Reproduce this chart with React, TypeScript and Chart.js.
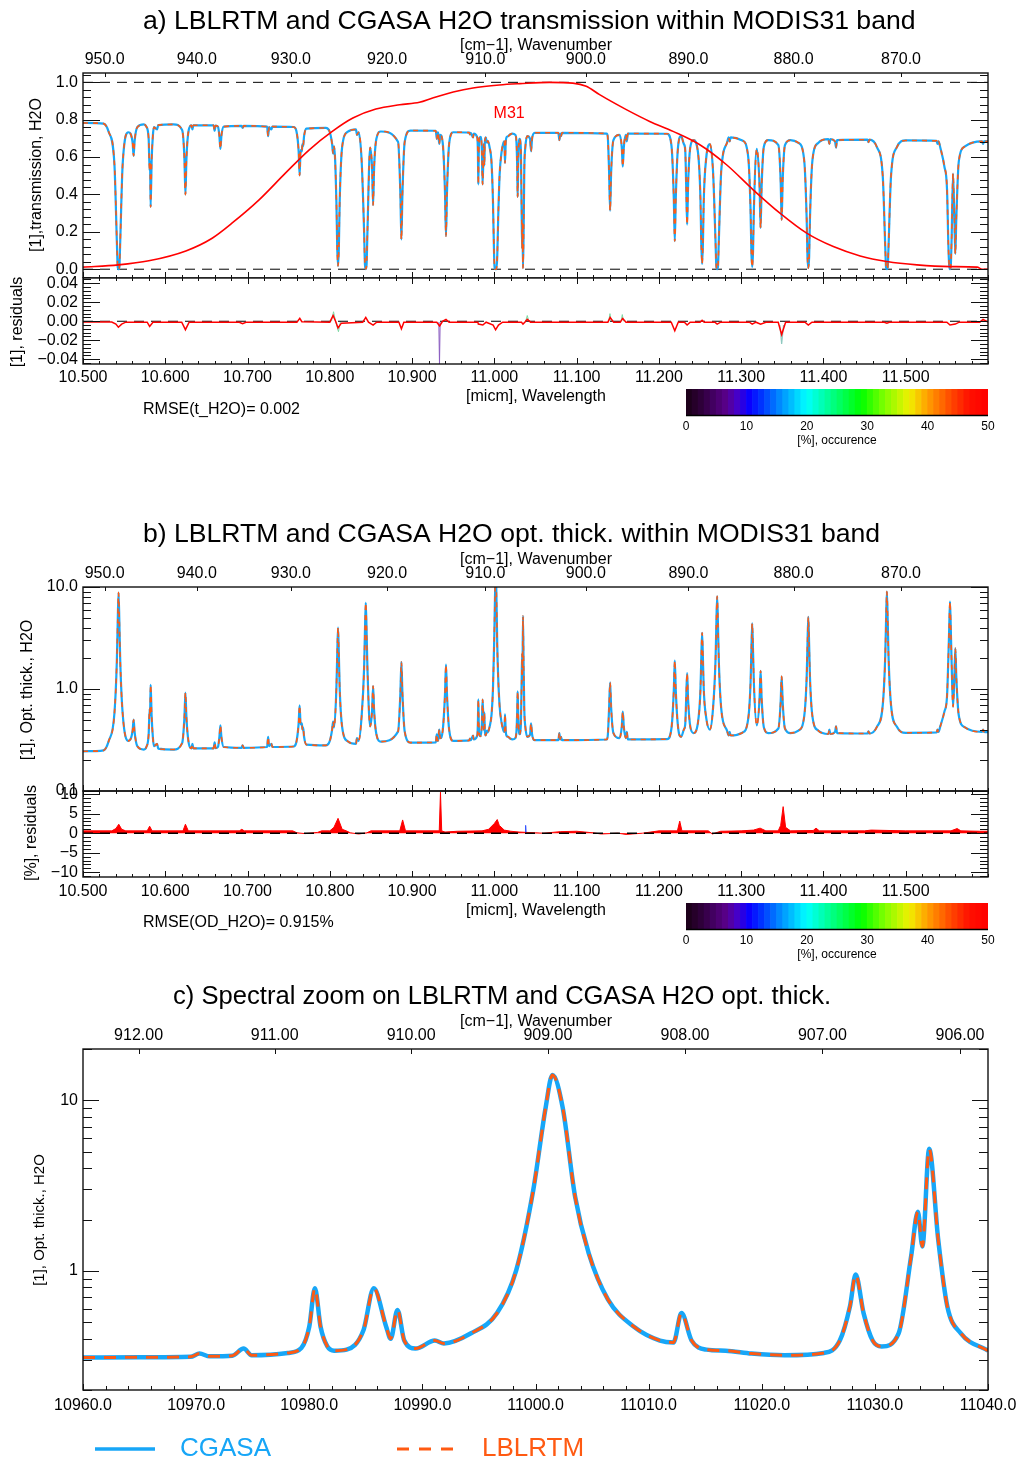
import React, { useEffect, useRef } from "react";
import { Chart, registerables } from "chart.js";

Chart.register(...registerables);

const FONT = '"Liberation Sans", Arial, Helvetica, sans-serif';
const BLUE = "#17a6f7";
const ORANGE = "#ff5a12";
const RED = "#ff0000";
const MINUS = "\u2212";

// ---------------- tick / category values ----------------
const waveTicks = [10.5, 10.6, 10.7, 10.8, 10.9, 11.0, 11.1, 11.2, 11.3, 11.4, 11.5];
const wavenumberTicks = [950, 940, 930, 920, 910, 900, 890, 880, 870];
const transTicks = [0, 0.2, 0.4, 0.6, 0.8, 1.0];
const resATicks = [-0.04, -0.02, 0, 0.02, 0.04];
const odTicks = [0.1, 1, 10];
const odMinor = [0.2, 0.3, 0.4, 0.5, 0.6, 0.7, 0.8, 0.9, 2, 3, 4, 5, 6, 7, 8, 9];
const resBTicks = [-10, -5, 0, 5, 10];
const zoomTicks = [10960, 10970, 10980, 10990, 11000, 11010, 11020, 11030, 11040];
const zoomWnTicks = [912, 911, 910, 909, 908, 907, 906];
const zoomOdTicks = [1, 10];
const zoomOdMinor = [0.2, 0.3, 0.4, 0.5, 0.6, 0.7, 0.8, 0.9, 2, 3, 4, 5, 6, 7, 8, 9, 20];
const occTicks = [0, 10, 20, 30, 40, 50];

// ---------------- spectrum (MODIS31 band) ----------------
const specWl = [
  10.5000, 10.5150, 10.5250, 10.5312, 10.5382, 10.5412, 10.5422, 10.5432, 10.5442, 10.5452, 10.5482, 10.5552,
  10.5603, 10.5615, 10.5627, 10.5660, 10.5740, 10.5770, 10.5798, 10.5810, 10.5815, 10.5822, 10.5834, 10.5850, 10.5862, 10.5900, 10.5915, 10.6100,
  10.6205, 10.6233, 10.6245, 10.6257, 10.6285, 10.6318, 10.6330, 10.6342, 10.6588, 10.6600, 10.6612, 10.6640, 10.6658, 10.6670, 10.6682, 10.6710, 10.6928, 10.6940, 10.6952,
  10.7238, 10.7250, 10.7262, 10.7290, 10.7302, 10.7560, 10.7593, 10.7621, 10.7633, 10.7645, 10.7660, 10.7667, 10.7675, 10.7687, 10.7715, 10.7950,
  10.8000, 10.8028, 10.8040, 10.8052, 10.8080, 10.8090, 10.8100, 10.8110, 10.8120, 10.8150, 10.8220, 10.8318, 10.8330, 10.8350, 10.8387, 10.8417, 10.8427, 10.8437, 10.8447, 10.8457, 10.8490, 10.8514, 10.8526, 10.8538, 10.8566, 10.8620,
  10.8830, 10.8858, 10.8870, 10.8882, 10.8910, 10.8980, 10.9288, 10.9300, 10.9312, 10.9318, 10.9330, 10.9342, 10.9372, 10.9400, 10.9412, 10.9424, 10.9452, 10.9500,
  10.9695, 10.9703, 10.9712, 10.9742, 10.9749, 10.9793, 10.9800, 10.9805, 10.9810, 10.9816, 10.9833, 10.9848, 10.9857, 10.9868, 10.9872, 10.9878, 10.9884, 10.9894, 10.9911, 10.9919,
  10.9943, 10.9966, 10.9983, 10.9998, 11.0009, 11.0015, 11.0024, 11.0035, 11.0047, 11.0064, 11.0087, 11.0110, 11.0122, 11.0129, 11.0138, 11.0151, 11.0168, 11.0191, 11.0220, 11.0255,
  11.0269, 11.0278, 11.0283, 11.0290, 11.0298, 11.0306, 11.0321, 11.0332, 11.0338, 11.0342, 11.0348, 11.0356, 11.0364, 11.0376, 11.0400, 11.0434, 11.0446, 11.0458, 11.0490,
  11.0778, 11.0790, 11.0800, 11.0810, 11.0822, 11.1368, 11.1380, 11.1395, 11.1407, 11.1419, 11.1447, 11.1521, 11.1549, 11.1561, 11.1573, 11.1598, 11.1610, 11.1622,
  11.2100, 11.2153, 11.2181, 11.2193, 11.2205, 11.2233, 11.2270, 11.2303, 11.2320, 11.2331, 11.2343, 11.2355, 11.2383, 11.2420, 11.2475, 11.2505, 11.2515, 11.2525, 11.2535, 11.2545, 11.2575, 11.2620,
  11.2658, 11.2688, 11.2698, 11.2708, 11.2718, 11.2728, 11.2758, 11.2828, 11.2848, 11.2860, 11.2872, 11.3014, 11.3084, 11.3114, 11.3124, 11.3134, 11.3144, 11.3154, 11.3190, 11.3224, 11.3236, 11.3248, 11.3276, 11.3330,
  11.3452, 11.3480, 11.3492, 11.3504, 11.3532, 11.3600, 11.3696, 11.3766, 11.3796, 11.3806, 11.3816, 11.3826, 11.3836, 11.3866, 11.3936, 11.4060, 11.4072, 11.4084, 11.4141, 11.4153, 11.4165,
  11.4535, 11.4547, 11.4559, 11.4651, 11.4721, 11.4751, 11.4761, 11.4771, 11.4781, 11.4791, 11.4821, 11.4891, 11.5000,
  11.5375, 11.5387, 11.5399, 11.5420, 11.5470, 11.5502, 11.5518, 11.5528, 11.5538, 11.5548, 11.5558, 11.5575, 11.5591, 11.5603, 11.5615, 11.5645, 11.5720, 11.5928, 11.5940, 11.5952, 11.6000,
];

const odVals = [
  0.245, 0.246, 0.250, 0.308, 0.578, 1.96, 4.53, 8.8, 4.53, 1.96, 0.578, 0.31,
  0.39, 0.50, 0.38, 0.275, 0.255, 0.27, 0.36, 0.64, 0.55, 1.10, 0.55, 0.33, 0.275, 0.29, 0.26, 0.255,
  0.295, 0.53, 0.92, 0.53, 0.295, 0.262, 0.29, 0.262, 0.262, 0.30, 0.263, 0.27, 0.34, 0.44, 0.34, 0.27, 0.265, 0.28, 0.265,
  0.27, 0.34, 0.275, 0.29, 0.27, 0.273, 0.30, 0.46, 0.69, 0.45, 0.46, 0.40, 0.42, 0.34, 0.285, 0.28,
  0.31, 0.40, 0.48, 0.42, 1.02, 2.14, 4.0, 2.14, 1.02, 0.423, 0.306, 0.29, 0.33, 0.31, 0.546, 1.63, 3.65, 7.0, 3.65, 1.63, 0.43, 0.62, 1.07, 0.62, 0.36, 0.305,
  0.384, 0.93, 1.84, 0.93, 0.384, 0.298, 0.30, 0.36, 0.31, 0.32, 0.40, 0.33, 0.39, 0.89, 1.73, 0.89, 0.39, 0.31,
  0.313, 0.327, 0.315, 0.35, 0.32, 0.353, 0.47, 0.79, 0.47, 0.36, 0.345, 0.45, 0.79, 0.47, 0.40, 0.59, 0.39, 0.35, 0.39, 0.375,
  0.43, 0.565, 1.01, 2.97, 9.1, 14.0, 9.1, 2.72, 1.27, 0.68, 0.47, 0.39, 0.38, 0.565, 0.39, 0.345, 0.34, 0.327, 0.32, 0.33,
  0.39, 0.62, 0.95, 0.565, 0.39, 0.36, 0.43, 1.21, 2.22, 1.39, 5.2, 1.52, 0.62, 0.43, 0.34, 0.36, 0.46, 0.36, 0.315,
  0.315, 0.37, 0.32, 0.34, 0.315, 0.32, 0.36, 0.665, 1.16, 0.665, 0.37, 0.33, 0.43, 0.60, 0.43, 0.33, 0.38, 0.32,
  0.322, 0.415, 0.97, 1.90, 0.97, 0.42, 0.34, 0.40, 0.45, 0.78, 1.43, 0.78, 0.42, 0.37, 0.47, 0.98, 1.95, 3.56, 1.98, 1.0, 0.52, 0.40,
  0.65, 1.90, 4.22, 8.1, 4.22, 1.90, 0.634, 0.39, 0.35, 0.38, 0.35, 0.373, 0.50, 1.155, 2.37, 4.4, 2.37, 1.16, 0.44, 0.83, 1.51, 0.83, 0.42, 0.37,
  0.41, 0.755, 1.33, 0.755, 0.41, 0.37, 0.391, 0.54, 1.31, 2.73, 5.1, 2.73, 1.31, 0.54, 0.391, 0.362, 0.40, 0.362, 0.38, 0.43, 0.37,
  0.366, 0.385, 0.366, 0.428, 0.70, 2.10, 4.68, 9.0, 4.68, 2.10, 0.70, 0.428, 0.372,
  0.375, 0.40, 0.38, 0.43, 0.60, 0.85, 2.0, 3.8, 7.2, 3.8, 1.8, 0.67, 1.3, 2.5, 1.3, 0.55, 0.42, 0.38, 0.40, 0.38, 0.378,
];

const transVals = [
  0.783, 0.782, 0.779, 0.735, 0.561, 0.141, 0.011, 0.000, 0.011, 0.141, 0.561, 0.733,
  0.677, 0.607, 0.684, 0.760, 0.775, 0.763, 0.698, 0.527, 0.577, 0.333, 0.577, 0.719, 0.760, 0.748, 0.771, 0.775,
  0.745, 0.589, 0.399, 0.589, 0.745, 0.770, 0.748, 0.770, 0.770, 0.741, 0.769, 0.763, 0.712, 0.644, 0.712, 0.763, 0.767, 0.756, 0.767,
  0.763, 0.712, 0.760, 0.748, 0.763, 0.761, 0.741, 0.631, 0.502, 0.638, 0.631, 0.670, 0.657, 0.712, 0.752, 0.756,
  0.733, 0.670, 0.619, 0.657, 0.361, 0.118, 0.018, 0.118, 0.361, 0.655, 0.736, 0.748, 0.719, 0.733, 0.579, 0.196, 0.026, 0.001, 0.026, 0.196, 0.651, 0.538, 0.343, 0.538, 0.698, 0.737,
  0.681, 0.395, 0.159, 0.395, 0.681, 0.742, 0.741, 0.698, 0.733, 0.726, 0.670, 0.719, 0.677, 0.411, 0.177, 0.411, 0.677, 0.733,
  0.731, 0.721, 0.730, 0.705, 0.726, 0.703, 0.625, 0.454, 0.625, 0.698, 0.708, 0.638, 0.454, 0.625, 0.670, 0.554, 0.677, 0.705, 0.677, 0.687,
  0.651, 0.568, 0.364, 0.051, 0.000, 0.000, 0.000, 0.066, 0.281, 0.507, 0.625, 0.677, 0.684, 0.568, 0.677, 0.708, 0.712, 0.721, 0.726, 0.719,
  0.677, 0.538, 0.387, 0.568, 0.677, 0.698, 0.651, 0.298, 0.109, 0.249, 0.006, 0.219, 0.538, 0.651, 0.712, 0.698, 0.631, 0.698, 0.730,
  0.730, 0.691, 0.726, 0.712, 0.730, 0.726, 0.698, 0.514, 0.313, 0.514, 0.691, 0.719, 0.651, 0.549, 0.651, 0.719, 0.684, 0.726,
  0.725, 0.660, 0.379, 0.150, 0.379, 0.657, 0.712, 0.670, 0.638, 0.458, 0.239, 0.458, 0.657, 0.691, 0.625, 0.375, 0.142, 0.028, 0.138, 0.368, 0.595, 0.670,
  0.522, 0.150, 0.015, 0.000, 0.015, 0.150, 0.530, 0.677, 0.705, 0.684, 0.705, 0.689, 0.607, 0.315, 0.093, 0.012, 0.093, 0.313, 0.644, 0.436, 0.221, 0.436, 0.657, 0.691,
  0.664, 0.470, 0.264, 0.470, 0.664, 0.691, 0.676, 0.583, 0.270, 0.065, 0.006, 0.065, 0.270, 0.583, 0.676, 0.696, 0.670, 0.696, 0.684, 0.651, 0.691,
  0.693, 0.680, 0.693, 0.652, 0.497, 0.122, 0.009, 0.000, 0.009, 0.122, 0.497, 0.652, 0.689,
  0.687, 0.670, 0.684, 0.651, 0.549, 0.427, 0.135, 0.022, 0.001, 0.022, 0.165, 0.512, 0.273, 0.082, 0.273, 0.577, 0.657, 0.684, 0.670, 0.684, 0.685,
];

// MODIS band 31 spectral response (normalised)
const srfWl = [10.500, 10.543, 10.580, 10.625, 10.657, 10.681, 10.714, 10.746, 10.775, 10.803, 10.828, 10.856, 10.885, 10.909, 10.925, 10.950, 10.974, 11.006, 11.031, 11.067, 11.0954, 11.1117, 11.1279, 11.1604, 11.1888, 11.2172, 11.2497, 11.2822, 11.3146, 11.3471, 11.3796, 11.412, 11.4446, 11.477, 11.5136, 11.5542, 11.5867, 11.5928, 11.600];
const srfVal = [0.011, 0.023, 0.045, 0.098, 0.166, 0.246, 0.371, 0.514, 0.639, 0.7375, 0.809, 0.857, 0.880, 0.893, 0.916, 0.948, 0.970, 0.986, 0.993, 1.0, 0.996, 0.979, 0.934, 0.854, 0.791, 0.7375, 0.666, 0.559, 0.425, 0.30, 0.193, 0.121, 0.071, 0.041, 0.023, 0.014, 0.011, 0.0, 0.0];

// transmission residuals
const resAWl = [
  10.500, 10.535, 10.540, 10.543, 10.547, 10.552, 10.578, 10.581, 10.585, 10.620, 10.6245, 10.629,
  10.690, 10.694, 10.698, 10.760, 10.7635, 10.766, 10.800, 10.804, 10.807, 10.810, 10.814, 10.840,
  10.8437, 10.847, 10.8526, 10.857, 10.884, 10.887, 10.890, 10.930, 10.9335, 10.937, 10.9412, 10.945,
  10.980, 10.9805, 10.986, 10.990, 10.9985, 11.0015, 11.005, 11.010, 11.033, 11.0348, 11.037, 11.040,
  11.044, 11.138, 11.1407, 11.145, 11.153, 11.156, 11.160, 11.215, 11.2193, 11.2235, 11.231, 11.2343,
  11.238, 11.250, 11.2525, 11.255, 11.268, 11.2708, 11.275, 11.310, 11.3134, 11.318, 11.3236, 11.330,
  11.345, 11.3492, 11.354, 11.3775, 11.3816, 11.386, 11.474, 11.4771, 11.480, 11.550, 11.5538, 11.5603,
  11.565, 11.590, 11.594, 11.600,
];
const resAVal = [
  -0.0008, -0.0008, -0.003, -0.0063, -0.003, -0.001, -0.001, -0.0054, -0.001, -0.001, -0.0089, -0.001,
  -0.001, -0.0025, -0.001, -0.001, 0.003, -0.0005, -0.001, 0.006, 0.0, -0.007, -0.002, -0.001,
  0.004, -0.001, -0.004, -0.001, -0.001, -0.008, -0.001, -0.001, -0.005, 0.0, 0.002, -0.001,
  -0.001, -0.003, -0.004, -0.001, -0.004, -0.009, -0.004, -0.001, -0.001, -0.003, -0.001, 0.002,
  -0.001, -0.001, 0.004, -0.001, -0.001, 0.003, -0.001, -0.001, -0.010, -0.001, -0.001, -0.004,
  -0.001, -0.001, 0.001, -0.001, -0.001, -0.003, -0.001, -0.001, -0.003, -0.001, -0.003, -0.001,
  -0.001, -0.014, -0.001, -0.001, -0.004, -0.001, -0.001, -0.002, -0.001, -0.001, -0.004, -0.003,
  -0.001, -0.001, 0.002, -0.001,
];
const resAGreenWl = [10.802, 10.8045, 10.807, 10.8105, 10.813, 10.814, 11.038, 11.040, 11.042, 11.043, 11.139, 11.1405, 11.142, 11.143, 11.154, 11.1555, 11.157];
const resAGreenVal = [0, 0.010, 0, -0.011, 0, null, 0, 0.006, 0, null, 0, 0.008, 0, null, 0, 0.007, 0];
const resAPurpleWl = [10.9325, 10.9333, 10.9341];
const resAPurpleVal = [-0.001, -0.046, -0.001];
const resATealWl = [11.347, 11.3492, 11.3515];
const resATealVal = [-0.004, -0.024, -0.004];

// optical-thickness residuals [%]
const resBWl = [
  10.500, 10.535, 10.540, 10.5435, 10.547, 10.552,
  10.578, 10.581, 10.584, 10.6215, 10.6245, 10.628,
  10.690, 10.693, 10.696, 10.755, 10.760, 10.770,
  10.785, 10.790, 10.800, 10.805, 10.810, 10.815,
  10.820, 10.825, 10.835, 10.845, 10.850, 10.885,
  10.8885, 10.892, 10.9330, 10.9345, 10.9360, 10.940,
  10.955, 10.985, 10.993, 11.000, 11.0035, 11.006,
  11.012, 11.020, 11.030, 11.050, 11.060, 11.080,
  11.100, 11.120, 11.130, 11.150, 11.160, 11.180,
  11.200, 11.2225, 11.2253, 11.228, 11.260, 11.265,
  11.275, 11.300, 11.315, 11.323, 11.330, 11.345,
  11.348, 11.351, 11.354, 11.360, 11.3875, 11.391,
  11.395, 11.450, 11.458, 11.500, 11.555, 11.5625,
  11.567, 11.590, 11.600,
];
const resBVal = [
  0.6, 0.6, 1.2, 2.3, 1.0, 0.6,
  0.6, 1.8, 0.6, 0.6, 2.3, 0.6,
  0.6, 1.0, 0.6, 0.6, 0.1, -0.1,
  0.2, 0.6, 0.6, 1.5, 3.8, 1.0,
  0.6, 0.1, -0.2, 0.1, 0.6, 0.6,
  3.4, 0.6, 0.6, 10.5, 0.6, 0.3,
  0.5, 0.6, 1.0, 2.5, 3.5, 2.0,
  0.8, 0.5, 0.3, 0.1, 0.0, 0.4,
  0.5, 0.1, -0.2, 0.0, -0.3, 0.0,
  0.6, 0.6, 3.1, 0.6, 0.6, -0.2,
  0.5, 0.6, 0.8, 1.3, 0.6, 0.6,
  2.0, 6.8, 1.5, 0.6, 0.7, 1.3,
  0.6, 0.6, 0.8, 0.6, 0.6, 1.2,
  0.6, 0.5, 0.5,
];
const resBBlueWl = [11.0375, 11.038, 11.0385];
const resBBlueVal = [0.3, 2.0, 0.3];

// spectral zoom (nm)
const zoomNm = [10960.0, 10965.0, 10969.5, 10970.3, 10971.2, 10973.2, 10974.2, 10974.9, 10978.1, 10979.3, 10980.0, 10980.5, 10981.0, 10981.6, 10982.2, 10983.3, 10984.8, 10985.7, 10986.8, 10987.2, 10987.8, 10988.4, 10989.4, 10991.1, 10991.9, 10994.3, 10996.6, 10998.3, 10999.8, 11000.9, 11001.5, 11002.4, 11003.5, 11004.7, 11006.4, 11008.7, 11011.0, 11012.2, 11012.9, 11013.8, 11015.1, 11016.8, 11019.1, 11022.0, 11025.5, 11026.9, 11027.8, 11028.3, 11029.0, 11029.8, 11030.6, 11032.1, 11033.2, 11033.8, 11034.2, 11034.8, 11035.6, 11036.4, 11037.6, 11040.0];
const zoomOd = [0.31, 0.311, 0.313, 0.327, 0.315, 0.318, 0.35, 0.32, 0.33, 0.353, 0.47, 0.79, 0.47, 0.36, 0.34, 0.345, 0.45, 0.79, 0.47, 0.40, 0.59, 0.39, 0.35, 0.39, 0.375, 0.43, 0.565, 1.01, 2.97, 9.1, 14.1, 9.1, 2.72, 1.27, 0.68, 0.47, 0.39, 0.38, 0.565, 0.39, 0.345, 0.34, 0.327, 0.32, 0.33, 0.39, 0.62, 0.95, 0.565, 0.39, 0.36, 0.43, 1.21, 2.22, 1.39, 5.2, 1.52, 0.62, 0.43, 0.34];

// ---------------- helpers ----------------
function pts(xs: number[], ys: (number | null)[]) {
  const n = Math.min(xs.length, ys.length);
  const out: any[] = [];
  for (let i = 0; i < n; i++) out.push({ x: xs[i], y: ys[i] });
  return out;
}
function steps(a: number, b: number, s: number) {
  const out: number[] = [];
  for (let v = a; v <= b + 1e-9; v += s) out.push(+v.toFixed(6));
  return out;
}
const fmt = (v: number, d: number) => v.toFixed(d).replace("-", MINUS);

type Side = { major: number[]; minor?: number[]; majorLen: number; minorLen?: number; labels?: string[]; gap?: number; size?: number };
type Txt = { text: string; x?: number; y?: number; dataX?: number; dataY?: number; size: number; color?: string; align?: CanvasTextAlign; rot?: number };
type FrameSpec = { bottom?: Side; top?: Side; left?: Side; right?: Side; texts?: Txt[]; extra?: (chart: any) => void };

function framePlugin(spec: FrameSpec) {
  return {
    id: "idlFrame",
    afterDraw(chart: any) {
      const { ctx, chartArea: a } = chart;
      const xs = chart.scales.x;
      const ys = chart.scales.y;
      ctx.save();
      ctx.strokeStyle = "#111";
      ctx.lineWidth = 1;
      ctx.beginPath();
      const okX = (p: number) => p >= a.left - 0.6 && p <= a.right + 0.6;
      const okY = (p: number) => p >= a.top - 0.6 && p <= a.bottom + 0.6;
      const xSide = (s: Side, y0: number, dir: number) => {
        const draw = (v: number, len: number) => {
          const p = Math.round(xs.getPixelForValue(v)) + 0.5;
          if (!okX(p)) return;
          ctx.moveTo(p, y0);
          ctx.lineTo(p, y0 + dir * len);
        };
        (s.minor || []).forEach((v) => draw(v, s.minorLen || 3));
        s.major.forEach((v) => draw(v, s.majorLen));
      };
      const ySide = (s: Side, x0: number, dir: number) => {
        const draw = (v: number, len: number) => {
          const p = Math.round(ys.getPixelForValue(v)) + 0.5;
          if (!okY(p)) return;
          ctx.moveTo(x0, p);
          ctx.lineTo(x0 + dir * len, p);
        };
        (s.minor || []).forEach((v) => draw(v, s.minorLen || 8));
        s.major.forEach((v) => draw(v, s.majorLen));
      };
      if (spec.bottom) xSide(spec.bottom, a.bottom, -1);
      if (spec.top) xSide(spec.top, a.top, 1);
      if (spec.left) ySide(spec.left, a.left, 1);
      if (spec.right) ySide(spec.right, a.right, -1);
      ctx.stroke();
      ctx.lineWidth = 1.4;
      ctx.strokeStyle = "#111";
      ctx.strokeRect(a.left, a.top, a.right - a.left, a.bottom - a.top);

      ctx.fillStyle = "#000";
      ctx.textBaseline = "middle";
      const lab = (s: Side | undefined, kind: string) => {
        if (!s || !s.labels) return;
        ctx.font = `${s.size || 16}px ${FONT}`;
        s.labels.forEach((t, i) => {
          const v = s.major[i];
          if (kind === "bottom" || kind === "top") {
            ctx.textAlign = "center";
            const p = xs.getPixelForValue(v);
            ctx.fillText(t, p, kind === "bottom" ? a.bottom + (s.gap || 14) : a.top - (s.gap || 13));
          } else {
            ctx.textAlign = "right";
            const p = ys.getPixelForValue(v);
            ctx.fillText(t, a.left - (s.gap || 5), p);
          }
        });
      };
      lab(spec.bottom, "bottom");
      lab(spec.top, "top");
      lab(spec.left, "left");
      (spec.texts || []).forEach((t) => {
        ctx.save();
        ctx.font = `${t.size}px ${FONT}`;
        ctx.fillStyle = t.color || "#000";
        ctx.textAlign = t.align || "center";
        ctx.textBaseline = "middle";
        const x = t.dataX !== undefined ? xs.getPixelForValue(t.dataX) : (t.x as number);
        const y = t.dataY !== undefined ? ys.getPixelForValue(t.dataY) : (t.y as number);
        ctx.translate(x, y);
        if (t.rot) ctx.rotate(t.rot);
        ctx.fillText(t.text, 0, 0);
        ctx.restore();
      });
      if (spec.extra) spec.extra(chart);
      ctx.restore();
    },
  };
}

function lineConfig(datasets: any[], xr: [number, number], yType: string, yr: [number, number], padding: any, spec: FrameSpec) {
  return {
    type: "line",
    data: { datasets },
    options: {
      responsive: false,
      animation: false,
      devicePixelRatio: 1,
      events: [],
      layout: { padding },
      plugins: { legend: { display: false }, tooltip: { enabled: false }, title: { display: false } },
      elements: { point: { radius: 0 }, line: { tension: 0 } },
      scales: {
        x: { type: "linear", min: xr[0], max: xr[1], display: false },
        y: { type: yType, min: yr[0], max: yr[1], display: false },
      },
    },
    plugins: [framePlugin(spec)],
  };
}

const ds = (data: any[], color: string, width: number, extra: any = {}) => ({
  data,
  borderColor: color,
  backgroundColor: color,
  borderWidth: width,
  pointRadius: 0,
  fill: false,
  ...extra,
});

const X0 = 10.5;
const X1 = 11.6;
const waveMinor = steps(10.5, 11.6, 0.02);
const rot = -Math.PI / 2;
const PAD_X = { left: 83, right: 38 };
const SMOOTH = { cubicInterpolationMode: "monotone" };

// ---------------- chart builders ----------------
function buildTrans() {
  const datasets = [
    ds(pts(srfWl, srfVal), RED, 1.6, { order: 0, ...SMOOTH }),
    ds(pts(specWl, transVals), ORANGE, 1.6, { order: 1, borderDash: [5, 5], ...SMOOTH }),
    ds(pts(specWl, transVals), BLUE, 2.2, { order: 2, ...SMOOTH }),
    ds(pts([X0, X1], [1, 1]), "#000", 1, { order: 3, borderDash: [10, 7] }),
    ds(pts([X0, X1], [0, 0]), "#000", 1, { order: 3, borderDash: [10, 7] }),
  ];
  return lineConfig(datasets, [X0, X1], "linear", [-0.047, 1.05], { ...PAD_X, top: 73, bottom: 0 }, {
    bottom: { major: waveTicks, minor: waveMinor, majorLen: 6, minorLen: 3 },
    top: { major: wavenumberTicks.map((w) => 1e4 / w), majorLen: 4, labels: wavenumberTicks.map((w) => w.toFixed(1)), gap: 13 },
    left: { major: transTicks, minor: steps(-0.04, 1.04, 0.04), majorLen: 17, minorLen: 8, labels: transTicks.map((v) => v.toFixed(1)) },
    right: { major: transTicks, minor: steps(-0.04, 1.04, 0.04), majorLen: 17, minorLen: 8 },
    texts: [
      { text: "a) LBLRTM and CGASA H2O transmission within MODIS31 band", x: 143, y: 22, size: 26.6, align: "left" },
      { text: "[cm\u22121], Wavenumber", x: 536, y: 46, size: 16 },
      { text: "[1],transmission, H2O", x: 37, y: 175, size: 16, rot },
      { text: "M31", dataX: 11.018, dataY: 0.832, size: 16, color: RED },
    ],
  });
}

// residual (a) canvas starts 16 px above its plot
function buildResA() {
  const datasets = [
    ds(pts([X0, X1], [0, 0]), "#000", 1.2, { order: 1, borderDash: [10, 7] }),
    ds(pts(resAWl, resAVal), RED, 1.5, { order: 0 }),
    ds(pts(resAGreenWl, resAGreenVal), "rgba(120,215,160,0.95)", 1, { order: 2 }),
    ds(pts(resAPurpleWl, resAPurpleVal), "#8a5cc0", 1, { order: 2 }),
    ds(pts(resATealWl, resATealVal), "#8fc9c0", 1.2, { order: 2 }),
  ];
  const o = 16;
  return lineConfig(datasets, [X0, X1], "linear", [-0.045, 0.0455], { ...PAD_X, top: o, bottom: 114 }, {
    bottom: { major: waveTicks, minor: waveMinor, majorLen: 6, minorLen: 3, labels: waveTicks.map((v) => v.toFixed(3)), gap: 14 },
    top: { major: waveTicks, minor: waveMinor, majorLen: 6, minorLen: 3 },
    left: { major: resATicks, minor: steps(-0.044, 0.044, 0.004), majorLen: 17, minorLen: 8, labels: resATicks.map((v) => fmt(v, 2)) },
    right: { major: resATicks, minor: steps(-0.044, 0.044, 0.004), majorLen: 17, minorLen: 8 },
    texts: [
      { text: "[micm], Wavelength", x: 536, y: 119 + o, size: 16 },
      { text: "RMSE(t_H2O)= 0.002", x: 143, y: 132 + o, size: 16, align: "left" },
      { text: "[1], residuals", x: 18, y: 44 + o, size: 16, rot },
    ],
  });
}

function buildOd() {
  const datasets = [
    ds(pts(specWl, odVals), ORANGE, 1.6, { order: 1, borderDash: [5, 5], ...SMOOTH }),
    ds(pts(specWl, odVals), BLUE, 2.2, { order: 2, ...SMOOTH }),
  ];
  return lineConfig(datasets, [X0, X1], "logarithmic", [0.1, 10], { ...PAD_X, top: 107, bottom: 12 }, {
    bottom: { major: waveTicks, minor: waveMinor, majorLen: 6, minorLen: 3 },
    top: { major: wavenumberTicks.map((w) => 1e4 / w), majorLen: 4, labels: wavenumberTicks.map((w) => w.toFixed(1)), gap: 13 },
    left: { major: odTicks, minor: odMinor, majorLen: 17, minorLen: 8, labels: odTicks.map((v) => v.toFixed(1)) },
    right: { major: odTicks, minor: odMinor, majorLen: 17, minorLen: 8 },
    texts: [
      { text: "b) LBLRTM and CGASA H2O opt. thick. within MODIS31 band", x: 143, y: 55, size: 26.6, align: "left" },
      { text: "[cm\u22121], Wavenumber", x: 536, y: 80, size: 16 },
      { text: "[1], Opt. thick., H2O", x: 28, y: 210, size: 16, rot },
    ],
  });
}

// residual (b) canvas starts 24 px above its plot
function buildResB() {
  const datasets = [
    ds(pts([X0, X1], [0, 0]), "#000", 1.6, { order: 0, borderDash: [10, 7] }),
    ds(pts(resBBlueWl, resBBlueVal), "#3050ff", 1, { order: 1 }),
    ds(pts(resBWl, resBVal), RED, 1, { order: 2, fill: "origin", backgroundColor: RED }),
  ];
  const o = 24;
  return lineConfig(datasets, [X0, X1], "linear", [-11.2, 10.8], { ...PAD_X, top: o, bottom: 114 }, {
    bottom: { major: waveTicks, minor: waveMinor, majorLen: 6, minorLen: 3, labels: waveTicks.map((v) => v.toFixed(3)), gap: 15 },
    top: { major: waveTicks, minor: waveMinor, majorLen: 6, minorLen: 3 },
    left: { major: resBTicks, minor: steps(-11, 10, 1), majorLen: 17, minorLen: 8, labels: resBTicks.map((v) => fmt(v, 0)) },
    right: { major: resBTicks, minor: steps(-11, 10, 1), majorLen: 17, minorLen: 8 },
    texts: [
      { text: "[micm], Wavelength", x: 536, y: 120 + o, size: 16 },
      { text: "RMSE(OD_H2O)= 0.915%", x: 143, y: 132 + o, size: 16, align: "left" },
      { text: "[%], residuals", x: 32, y: 42 + o, size: 16, rot },
    ],
  });
}

function buildZoom() {
  const datasets = [
    ds(pts(zoomNm, zoomOd), ORANGE, 3, { order: 0, borderDash: [12, 9], ...SMOOTH }),
    ds(pts(zoomNm, zoomOd), BLUE, 4.5, { order: 1, ...SMOOTH }),
  ];
  const legend = (chart: any) => {
    const ctx = chart.ctx;
    const y = 489;
    ctx.save();
    ctx.lineWidth = 3.5;
    ctx.strokeStyle = BLUE;
    ctx.beginPath();
    ctx.moveTo(95, y);
    ctx.lineTo(155, y);
    ctx.stroke();
    ctx.strokeStyle = ORANGE;
    ctx.lineWidth = 3;
    ctx.setLineDash([12, 10]);
    ctx.beginPath();
    ctx.moveTo(397, y);
    ctx.lineTo(457, y);
    ctx.stroke();
    ctx.setLineDash([]);
    ctx.font = `26px ${FONT}`;
    ctx.textAlign = "left";
    ctx.textBaseline = "middle";
    ctx.fillStyle = BLUE;
    ctx.fillText("CGASA", 180, y);
    ctx.fillStyle = ORANGE;
    ctx.fillText("LBLRTM", 482, y);
    ctx.restore();
  };
  return lineConfig(datasets, [10960, 11040], "logarithmic", [0.2, 20], { ...PAD_X, top: 89, bottom: 73 }, {
    bottom: { major: zoomTicks, minor: steps(10960, 11040, 2), majorLen: 6, minorLen: 4, labels: zoomTicks.map((v) => v.toFixed(1)), gap: 16 },
    top: { major: zoomWnTicks.map((w) => 1e7 / w), majorLen: 5, labels: zoomWnTicks.map((w) => w.toFixed(2)), gap: 13 },
    left: { major: zoomOdTicks, minor: zoomOdMinor, majorLen: 16, minorLen: 9, labels: zoomOdTicks.map((v) => String(v)) },
    right: { major: zoomOdTicks, minor: zoomOdMinor, majorLen: 16, minorLen: 9 },
    texts: [
      { text: "c) Spectral zoom on LBLRTM and CGASA H2O opt. thick.", x: 173, y: 37, size: 25.6, align: "left" },
      { text: "[cm\u22121], Wavenumber", x: 536, y: 62, size: 16 },
      { text: "[1], Opt. thick., H2O", x: 40, y: 260, size: 15, rot },
    ],
    extra: legend,
  });
}

// colour bar (occurrence %)
const cmapStops: [number, number[]][] = [
  [0, [25, 0, 20]], [2.4, [45, 0, 55]], [6.8, [90, 0, 140]], [8.5, [70, 0, 200]], [10.5, [10, 0, 255]],
  [12.5, [0, 50, 255]], [16, [0, 150, 255]], [20, [0, 255, 255]], [24, [0, 255, 140]], [29, [0, 255, 0]],
  [33, [130, 255, 0]], [37, [240, 240, 0]], [40, [255, 160, 0]], [44, [255, 70, 0]], [47, [255, 15, 0]], [50, [255, 0, 0]],
];
function cmap(v: number) {
  for (let i = 0; i < cmapStops.length - 1; i++) {
    const [a, ca] = cmapStops[i];
    const [b, cb] = cmapStops[i + 1];
    if (v >= a && v <= b) {
      const t = (v - a) / (b - a);
      const c = ca.map((q, k) => Math.round(q + (cb[k] - q) * t));
      return `rgb(${c[0]},${c[1]},${c[2]})`;
    }
  }
  return "rgb(255,0,0)";
}
const occLevels = Array.from({ length: 50 }, (_, i) => i);

function buildColorbar() {
  return {
    type: "bar",
    data: {
      labels: occLevels.map(String),
      datasets: [{
        data: occLevels.map(() => 1),
        backgroundColor: occLevels.map((i) => cmap(i + 0.5)),
        borderWidth: 0,
        barPercentage: 1,
        categoryPercentage: 1,
      }],
    },
    options: {
      responsive: false,
      animation: false,
      devicePixelRatio: 1,
      events: [],
      layout: { padding: { left: 26, right: 38, top: 9, bottom: 40 } },
      plugins: { legend: { display: false }, tooltip: { enabled: false } },
      scales: { x: { display: false }, y: { display: false, min: 0, max: 1 } },
    },
    plugins: [{
      id: "cbAxis",
      afterDraw(chart: any) {
        const { ctx, chartArea: a } = chart;
        ctx.save();
        ctx.strokeStyle = "#000";
        ctx.lineWidth = 1.5;
        ctx.beginPath();
        ctx.moveTo(a.left, a.bottom + 0.5);
        ctx.lineTo(a.right, a.bottom + 0.5);
        ctx.stroke();
        ctx.fillStyle = "#000";
        ctx.font = `12px ${FONT}`;
        ctx.textAlign = "center";
        ctx.textBaseline = "middle";
        occTicks.forEach((v) => {
          const x = a.left + ((a.right - a.left) * v) / 50;
          ctx.fillText(String(v), x, 47);
        });
        ctx.fillText("[%], occurence", (a.left + a.right) / 2, 61);
        ctx.restore();
      },
    }],
  };
}

function Box({ left, top, width, height, build }: { left: number; top: number; width: number; height: number; build: () => any }) {
  const ref = useRef<HTMLCanvasElement | null>(null);
  useEffect(() => {
    if (!ref.current) return;
    const chart = new Chart(ref.current, build());
    return () => chart.destroy();
  }, []);
  return <canvas ref={ref} width={width} height={height} style={{ position: "absolute", left, top, width, height }} />;
}

export default function App() {
  return (
    <div style={{ position: "absolute", left: 0, top: 0, width: 1026, height: 1463, background: "#fff", overflow: "hidden" }}>
      <Box left={0} top={0} width={1026} height={278} build={buildTrans} />
      <Box left={0} top={262} width={1026} height={216} build={buildResA} />
      <Box left={660} top={380} width={366} height={75} build={buildColorbar} />
      <Box left={0} top={480} width={1026} height={323} build={buildOd} />
      <Box left={0} top={767} width={1026} height={224} build={buildResB} />
      <Box left={660} top={894} width={366} height={75} build={buildColorbar} />
      <Box left={0} top={960} width={1026} height={503} build={buildZoom} />
    </div>
  );
}
